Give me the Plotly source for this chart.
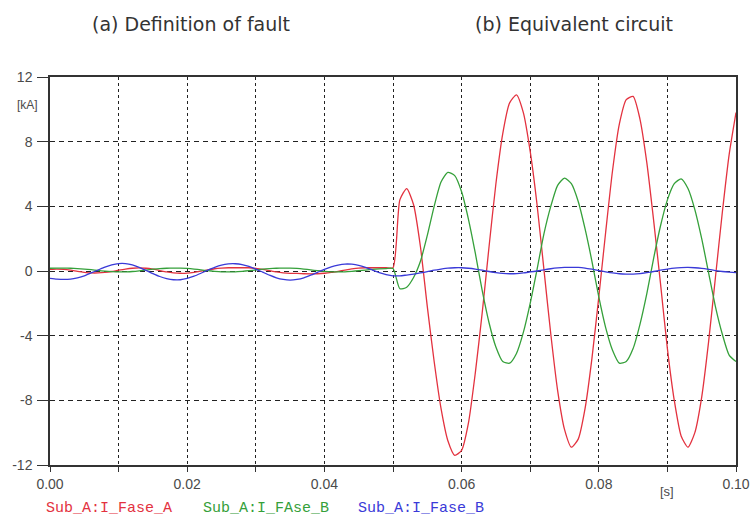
import plotly.graph_objects as go

# time axis [s]
time_s = [round(i * 0.001, 3) for i in range(101)]

# Sub_A:I_Fase_A  [kA]
fase_a = [0.1, 0.12, 0.1, 0.05, -0.02, -0.08, -0.12, -0.12, -0.09, -0.03,
          0.05, 0.12, 0.17, 0.19, 0.17, 0.11, 0.03, -0.05, -0.11, -0.14,
          -0.13, -0.08, -0.01, 0.07, 0.14, 0.18, 0.2, 0.2, 0.2, 0.2,
          0.16, 0.1, 0.02, -0.06, -0.12, -0.15, -0.15, -0.17, -0.18, -0.17,
          -0.14, -0.09, -0.02, 0.06, 0.13, 0.18, 0.2, 0.2, 0.2, 0.2,
          0.2, 4.4, 5.1, 4.1, 1.5, -2.2, -5.6, -8.5, -10.5, -11.4,
          -11.1, -9.4, -6.3, -2.6, 1.5, 5.4, 8.5, 10.4, 10.9, 9.8,
          7.4, 4.1, 0.1, -3.9, -7.4, -9.8, -10.9, -10.4, -8.5, -5.4,
          -1.6, 2.4, 6.2, 9.1, 10.6, 10.8, 9.4, 6.7, 3.1, -0.8,
          -4.8, -8.0, -10.2, -10.9, -10.0, -7.8, -4.4, -0.4, 3.6, 7.2,
          9.8]

# Sub_A:I_FAse_B  [kA]
fase_b_green = [0.17, 0.18, 0.18, 0.17, 0.15, 0.12, 0.08, 0.03, -0.01, -0.04,
                -0.06, -0.05, -0.03, 0.01, 0.06, 0.11, 0.15, 0.17, 0.18, 0.18,
                0.16, 0.12, 0.07, 0.02, -0.02, -0.05, -0.06, -0.05, -0.02, 0.02,
                0.07, 0.12, 0.15, 0.17, 0.18, 0.18, 0.16, 0.12, 0.07, 0.02,
                -0.02, -0.05, -0.06, -0.05, -0.02, 0.02, 0.06, 0.1, 0.13, 0.15,
                0.15, -1.1, -1.0, -0.4, 0.6, 2.2, 4.0, 5.5, 6.1, 5.9,
                4.9, 3.2, 1.1, -1.2, -3.2, -4.7, -5.6, -5.7, -5.1, -3.8,
                -2.0, 0.1, 2.3, 4.0, 5.3, 5.75, 5.4, 4.3, 2.6, 0.6,
                -1.6, -3.5, -4.9, -5.7, -5.6, -4.8, -3.3, -1.4, 0.8, 2.8,
                4.4, 5.4, 5.7, 5.1, 3.8, 2.0, -0.1, -2.2, -3.9, -5.2,
                -5.6]

# Sub_A:I_Fase_B  [kA]
fase_b_blue = [-0.45, -0.5, -0.52, -0.5, -0.42, -0.3, -0.12, 0.06, 0.24, 0.38,
               0.46, 0.46, 0.38, 0.23, 0.04, -0.16, -0.34, -0.47, -0.54, -0.54,
               -0.46, -0.32, -0.14, 0.05, 0.23, 0.37, 0.44, 0.45, 0.4, 0.28,
               0.12, -0.07, -0.26, -0.42, -0.52, -0.56, -0.52, -0.42, -0.26, -0.08,
               0.1, 0.26, 0.37, 0.43, 0.42, 0.35, 0.22, 0.06, -0.1, -0.22,
               -0.3, -0.3, -0.25, -0.2, -0.12, -0.04, 0.05, 0.12, 0.18, 0.2,
               0.2, 0.17, 0.12, 0.05, -0.03, -0.1, -0.15, -0.17, -0.16, -0.12,
               -0.06, 0.0, 0.07, 0.14, 0.19, 0.22, 0.23, 0.22, 0.18, 0.11,
               0.03, -0.05, -0.12, -0.17, -0.19, -0.19, -0.16, -0.1, -0.03, 0.05,
               0.12, 0.18, 0.21, 0.22, 0.2, 0.16, 0.1, 0.03, -0.03, -0.07,
               -0.1]

series_names = ["Sub_A:I_Fase_A", "Sub_A:I_FAse_B", "Sub_A:I_Fase_B"]
series_colors = ["#e3323f", "#35a03a", "#3a3ad8"]
series_values = [fase_a, fase_b_green, fase_b_blue]

x_tickvals = [0.0, 0.02, 0.04, 0.06, 0.08, 0.10]
x_ticktext = ["0.00", "0.02", "0.04", "0.06", "0.08", "0.10"]
y_tickvals = [-12, -8, -4, 0, 4, 8, 12]
y_ticktext = ["-12", "-8", "-4", "0", "4", "8", "12"]

W, H = 754, 524
L, R, T, B = 50, 18, 77, 59
PW, PH = W - L - R, H - T - B

def px_x(px):
    return (px - L) / PW

def px_y(py):
    return (H - B - py) / PH

fig = go.Figure()
for name, color, vals in zip(series_names, series_colors, series_values):
    fig.add_trace(go.Scatter(x=time_s, y=vals, mode="lines", name=name,
                             line=dict(color=color, width=1.3, shape="spline", smoothing=0.6),
                             showlegend=False))

tick_font = dict(family="Liberation Sans, Arial", size=14, color="#4a4a4a")

fig.update_layout(
    width=W, height=H, autosize=False,
    margin=dict(l=L, r=R, t=T, b=B),
    paper_bgcolor="white", plot_bgcolor="white",
    xaxis=dict(range=[0, 0.1], tickvals=x_tickvals, ticktext=x_ticktext,
               ticks="outside", ticklen=5, tickcolor="#333", tickwidth=1,
               showline=True, mirror=True, linecolor="#333", linewidth=1.5,
               showgrid=True, gridcolor="#222", gridwidth=1, griddash="3px,3px",
               minor=dict(tickvals=[0.01, 0.03, 0.05, 0.07, 0.09], ticks="outside",
                          ticklen=5, tickcolor="#333", showgrid=True,
                          gridcolor="#222", gridwidth=1, griddash="3px,3px"),
               zeroline=False, tickfont=tick_font, automargin=False),
    yaxis=dict(range=[-12, 12], tickvals=y_tickvals, ticktext=y_ticktext,
               ticks="outside", ticklen=11, tickcolor="#333", tickwidth=1,
               showline=True, mirror=True, linecolor="#333", linewidth=1.5,
               showgrid=True, gridcolor="#222", gridwidth=1, griddash="5px,4px",
               zeroline=False, tickfont=tick_font, ticklabelstandoff=2,
               automargin=False),
)

ann = []
ann.append(dict(text="(a) Definition of fault", x=px_x(191), y=px_y(24),
                xref="paper", yref="paper", xanchor="center", yanchor="middle",
                showarrow=False, font=dict(family="DejaVu Sans", size=19, color="#333")))
ann.append(dict(text="(b) Equivalent circuit", x=px_x(473), y=px_y(24),
                xref="paper", yref="paper", xanchor="left", yanchor="middle",
                showarrow=False, font=dict(family="DejaVu Sans", size=19, color="#333")))
ann.append(dict(text="[kA]", x=px_x(27), y=px_y(105), xref="paper", yref="paper",
                xanchor="center", yanchor="middle", showarrow=False,
                font=dict(family="Liberation Sans, Arial", size=12, color="#4a4a4a")))
ann.append(dict(text="[s]", x=0.09, y=px_y(491), xref="x", yref="paper",
                xanchor="center", yanchor="middle", showarrow=False,
                font=dict(family="Liberation Sans, Arial", size=13, color="#4a4a4a")))
for name, color, lx in zip(series_names, series_colors, [44, 201, 356]):
    ann.append(dict(text=name, x=px_x(lx), y=px_y(508), xref="paper", yref="paper",
                    xanchor="left", yanchor="middle", showarrow=False,
                    font=dict(family="Liberation Mono", size=15, color=color)))
fig.update_layout(annotations=ann)

fig.write_html("out.html", config={"displayModeBar": False},
               post_script="document.body.style.margin='0';")
